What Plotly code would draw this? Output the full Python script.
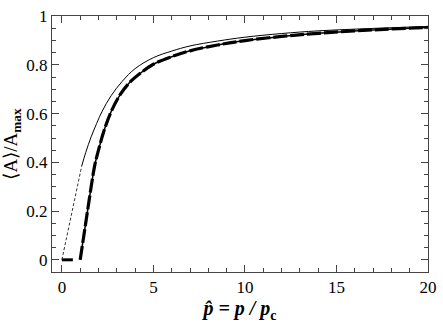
import plotly.graph_objects as go

# thick curve
thick_x = [1.0, 1.2, 1.4, 1.6, 1.8, 2.0, 2.3, 2.7, 3.2, 3.7, 4.3, 5.0, 6.0, 7.0, 8.5, 10.0, 12.0, 14.0, 17.0, 20.0]
thick_y = [0.0, 0.1, 0.2, 0.3, 0.39, 0.45, 0.53, 0.61, 0.68, 0.728, 0.767, 0.803, 0.834, 0.858, 0.882, 0.9, 0.917, 0.93, 0.944, 0.954]

# thick segment on the axis
zero_x = [0.0, 0.6]
zero_y = [0.0, 0.0]

# thin solid curve
thin_x = [1.08, 1.3, 1.6, 1.9, 2.2, 2.7, 3.3, 4.0, 5.0, 6.0, 7.0, 8.5, 10.0, 12.0, 14.0, 17.0, 20.0]
thin_y = [0.384, 0.44, 0.505, 0.56, 0.61, 0.675, 0.733, 0.785, 0.83, 0.857, 0.878, 0.898, 0.914, 0.929, 0.94, 0.95, 0.958]

# thin dashed line
dash_x = [0.0, 1.08]
dash_y = [0.0, 0.384]

serif = "Liberation Serif"

fig = go.Figure()
fig.add_trace(go.Scatter(x=dash_x, y=dash_y, mode="lines",
                         line=dict(color="black", width=0.8, dash="3px,2px")))
fig.add_trace(go.Scatter(x=thin_x, y=thin_y, mode="lines",
                         line=dict(color="black", width=1, shape="spline")))
fig.add_trace(go.Scatter(x=thick_x, y=thick_y, mode="lines",
                         line=dict(color="black", width=1.5, shape="spline")))
fig.add_trace(go.Scatter(x=thick_x, y=thick_y, mode="lines",
                         line=dict(color="black", width=3.2, shape="spline", dash="14px,3px")))
fig.add_trace(go.Scatter(x=zero_x, y=zero_y, mode="lines",
                         line=dict(color="black", width=3)))

axis_common = dict(
    showline=True, linecolor="#444", linewidth=1, mirror="allticks",
    ticks="inside", ticklen=7, tickcolor="#444", showgrid=False, zeroline=False,
    ticklabeloverflow="allow",
    tickfont=dict(family=serif, size=17, color="black"),
)

fig.update_xaxes(range=[-0.54, 20.001], tickvals=[0, 5, 10, 15, 20],
                 ticktext=["0", "5", "10", "15", "20"],
                 minor=dict(dtick=1, tick0=0, ticks="inside", ticklen=4, tickcolor="#444"),
                 title=dict(text="<b><i>p̂ = p / p</i><sub>c</sub></b>",
                            font=dict(family=serif, size=20, color="black"),
                            standoff=4),
                 **axis_common)
fig.update_yaxes(range=[-0.05, 1.001], tickvals=[0, 0.2, 0.4, 0.6, 0.8, 1],
                 ticktext=["0", "0.2", "0.4", "0.6", "0.8", "1"],
                 minor=dict(dtick=0.05, tick0=0, ticks="inside", ticklen=4, tickcolor="#444"),
                 title=dict(text="⟨A⟩/A<sub><b>max</b></sub>",
                            font=dict(family=serif, size=19, color="black"),
                            standoff=4),
                 **axis_common)

fig.update_layout(width=443, height=325, showlegend=False,
                  font=dict(family=serif, color="black"),
                  plot_bgcolor="white", paper_bgcolor="white",
                  margin=dict(l=52, r=10, t=7, b=53))
# drop the browser's default body margin so the figure fills the window
fig.write_html("out.html", config={"displayModeBar": False},
               post_script="document.body.style.margin='0';")
